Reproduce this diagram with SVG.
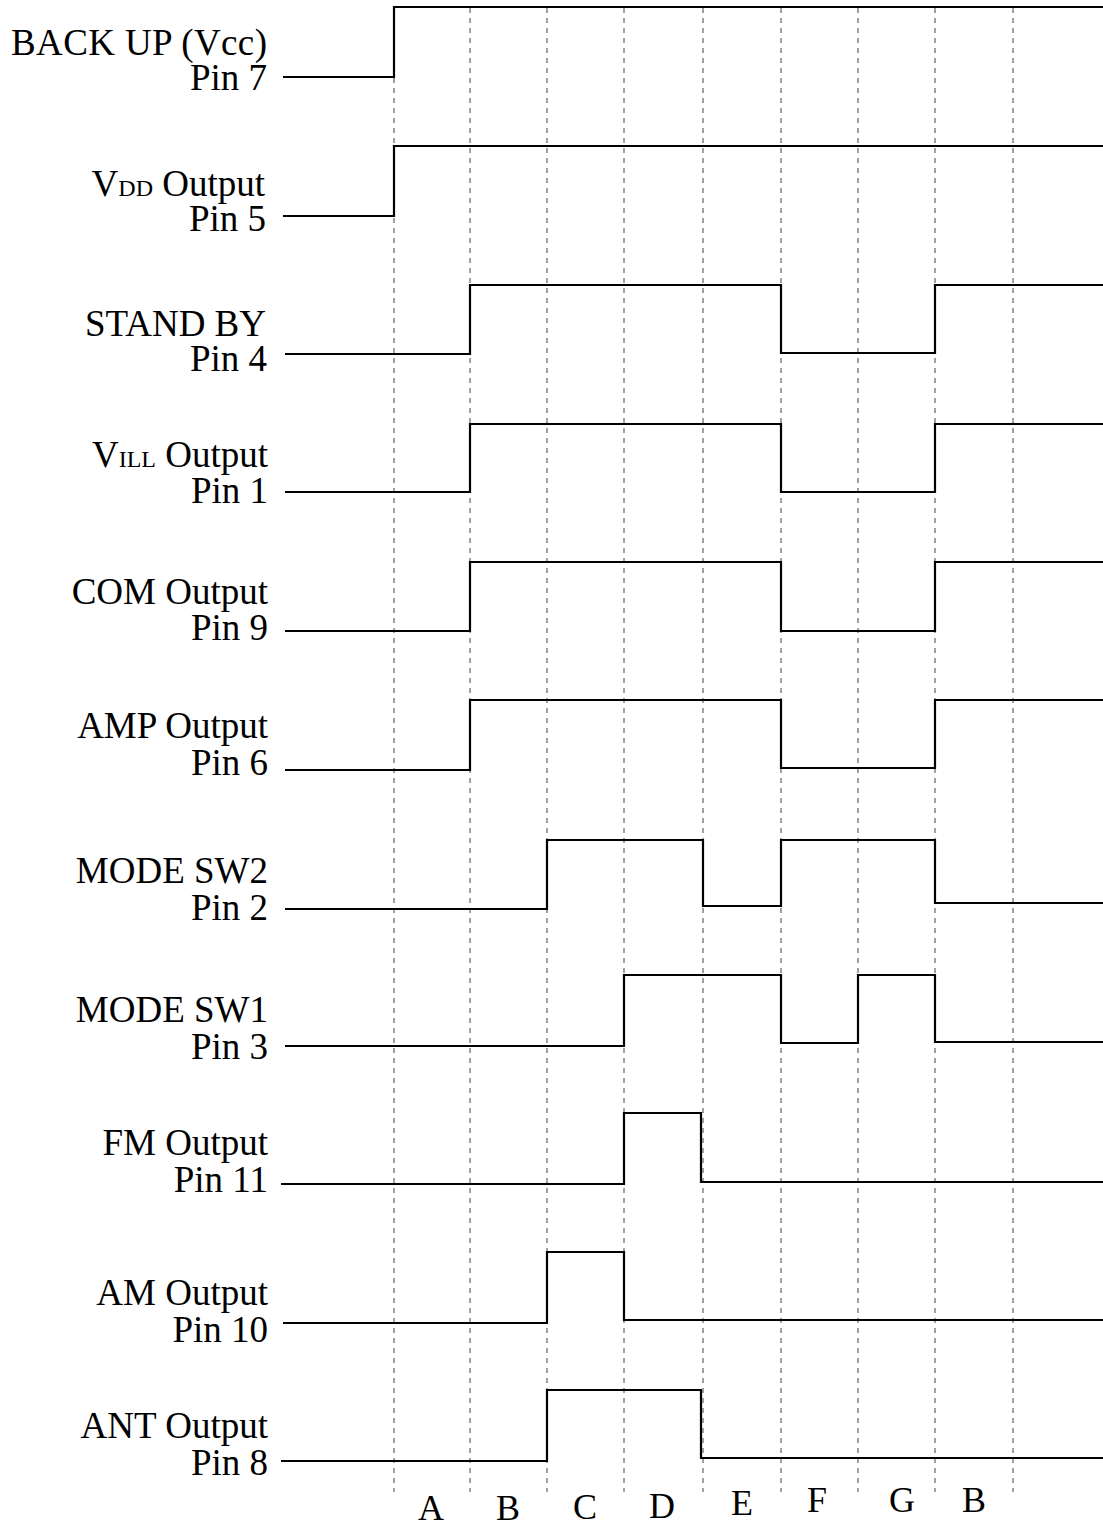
<svg xmlns="http://www.w3.org/2000/svg" width="1103" height="1526" viewBox="0 0 1103 1526">
<style>
.lbl{font-family:"Liberation Serif","Times New Roman",serif;font-size:37px;fill:#000;text-anchor:end}
.sub{font-size:24px}
.col{font-family:"Liberation Serif","Times New Roman",serif;font-size:36px;fill:#000;text-anchor:middle}
.grid line{stroke:#444;stroke-width:1;stroke-dasharray:5 5}
.sig{fill:none;stroke:#000;stroke-width:2.2;stroke-linejoin:miter}
</style>
<rect width="1103" height="1526" fill="#fff"/>
<g id="gridlines" class="grid">
<line x1="394" y1="8" x2="394" y2="1492"/>
<line x1="470" y1="8" x2="470" y2="1492"/>
<line x1="547" y1="8" x2="547" y2="1492"/>
<line x1="624" y1="8" x2="624" y2="1492"/>
<line x1="703" y1="8" x2="703" y2="1492"/>
<line x1="781" y1="8" x2="781" y2="1492"/>
<line x1="858" y1="8" x2="858" y2="1492"/>
<line x1="935" y1="8" x2="935" y2="1492"/>
<line x1="1013" y1="8" x2="1013" y2="1492"/>
</g>
<g id="labels">
<g id="sig-backup"><text class="lbl" x="267" y="55" textLength="256">BACK UP (Vcc)</text><text class="lbl" x="267" y="90">Pin 7</text></g>
<g id="sig-vdd"><text class="lbl" x="265" y="196">V<tspan class="sub">DD</tspan> Output</text><text class="lbl" x="266" y="231">Pin 5</text></g>
<g id="sig-standby"><text class="lbl" x="266" y="336">STAND BY</text><text class="lbl" x="267" y="371">Pin 4</text></g>
<g id="sig-vill"><text class="lbl" x="268" y="467">V<tspan class="sub">ILL</tspan> Output</text><text class="lbl" x="268" y="503">Pin 1</text></g>
<g id="sig-com"><text class="lbl" x="268" y="604">COM Output</text><text class="lbl" x="268" y="640">Pin 9</text></g>
<g id="sig-amp"><text class="lbl" x="268" y="738">AMP Output</text><text class="lbl" x="268" y="775">Pin 6</text></g>
<g id="sig-modesw2"><text class="lbl" x="268" y="883">MODE SW2</text><text class="lbl" x="268" y="920">Pin 2</text></g>
<g id="sig-modesw1"><text class="lbl" x="268" y="1022">MODE SW1</text><text class="lbl" x="268" y="1059">Pin 3</text></g>
<g id="sig-fm"><text class="lbl" x="268" y="1155">FM Output</text><text class="lbl" x="268" y="1192">Pin 11</text></g>
<g id="sig-am"><text class="lbl" x="268" y="1305">AM Output</text><text class="lbl" x="268" y="1342">Pin 10</text></g>
<g id="sig-ant"><text class="lbl" x="268" y="1438">ANT Output</text><text class="lbl" x="268" y="1475">Pin 8</text></g>
</g>
<g id="waveforms" class="sig">
<polyline points="283,77 394,77 394,7 1103,7"/>
<polyline points="283,216 394,216 394,146 1103,146"/>
<polyline points="285,354 470,354 470,285 781,285 781,353 935,353 935,285 1103,285"/>
<polyline points="285,492 470,492 470,424 781,424 781,492 935,492 935,424 1103,424"/>
<polyline points="285,631 470,631 470,562 781,562 781,631 935,631 935,562 1103,562"/>
<polyline points="285,770 470,770 470,700 781,700 781,768 935,768 935,700 1103,700"/>
<polyline points="285,909 547,909 547,840 703,840 703,906 781,906 781,840 935,840 935,903 1103,903"/>
<polyline points="285,1046 624,1046 624,975 781,975 781,1043 858,1043 858,975 935,975 935,1042 1103,1042"/>
<polyline points="281,1184 624,1184 624,1113 701,1113 701,1182 1103,1182"/>
<polyline points="283,1323 547,1323 547,1252 624,1252 624,1320 1103,1320"/>
<polyline points="281,1461 547,1461 547,1390 701,1390 701,1458 1103,1458"/>
</g>
<g id="periods">
<text class="col" x="431" y="1520">A</text>
<text class="col" x="508" y="1520">B</text>
<text class="col" x="585" y="1519">C</text>
<text class="col" x="662" y="1518">D</text>
<text class="col" x="742" y="1515">E</text>
<text class="col" x="817" y="1512">F</text>
<text class="col" x="902" y="1512">G</text>
<text class="col" x="974" y="1512">B</text>
</g>
</svg>
